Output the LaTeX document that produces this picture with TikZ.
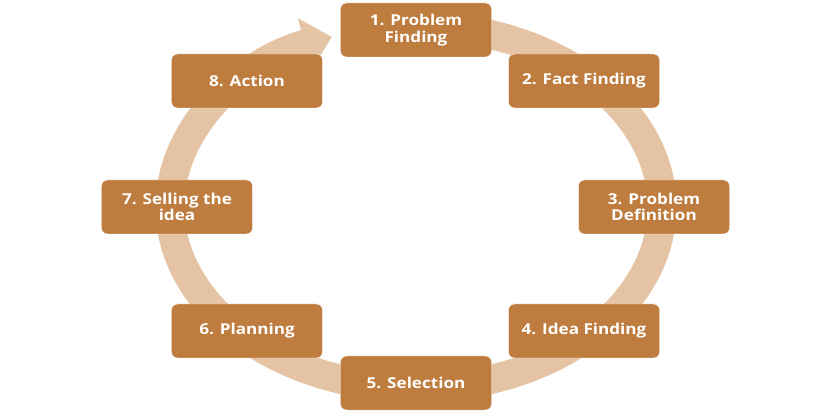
\documentclass[tikz,border=0pt]{standalone}
\usepackage{fontspec}
\setmainfont{Open Sans}[FakeStretch=1.14]
\usetikzlibrary{arrows.meta}
\definecolor{boxbrown}{RGB}{190,124,62}
\definecolor{ringtan}{RGB}{228,196,164}

\begin{document}
\begin{tikzpicture}
[x=1pt,y=1pt,
mybox/.style={rectangle,rounded corners=6pt,minimum width=151pt,minimum height=54pt,align=center,fill=boxbrown,draw=white,thin,text=white,font=\fontsize{15}{16.5}\selectfont\bfseries},
ring/.style={line width=29pt,draw=ringtan,-{Triangle[width=52pt,length=28pt]}},
]
\useasboundingbox (-416,-207) rectangle (416,207);

% cycle ring behind the boxes
\draw[ring] (80:246 and 181) arc[start angle=80,end angle=-250,x radius=246,y radius=181];

\node [mybox] (A) at (0,177){1. Problem\\Finding};
\node [mybox] (B) at (168,126){2. Fact Finding};
\node [mybox] (C) at (238,0){3. Problem\\Definition};
\node [mybox] (D) at (168,-124){4. Idea Finding};
\node [mybox] (E) at (0,-176){5. Selection};
\node [mybox] (F) at (-169,-124){6. Planning};
\node [mybox] (G) at (-239,0){7. Selling the\\idea};
\node [mybox] (H) at (-169,126){8. Action};
\end{tikzpicture}
\end{document}
